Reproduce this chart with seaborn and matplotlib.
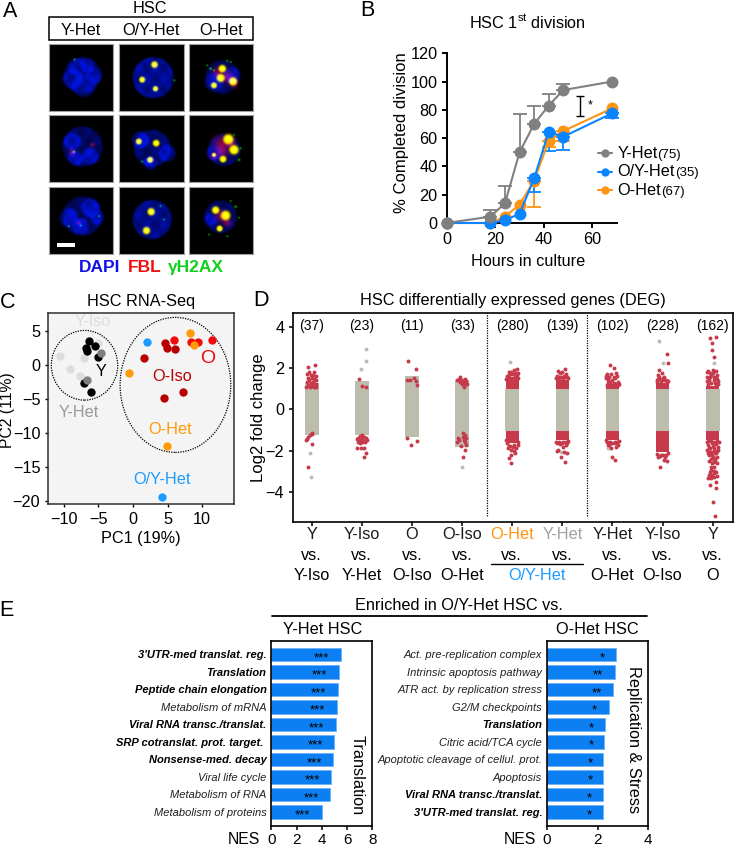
import numpy as np
import pandas as pd
import matplotlib
matplotlib.use("Agg")
import matplotlib.pyplot as plt
from matplotlib.patches import Ellipse, Rectangle
import seaborn as sns

sns.set_theme(style="ticks")
plt.rcParams['font.family'] = ['Liberation Sans', 'DejaVu Sans']
plt.rcParams['mathtext.default'] = 'regular'
plt.rcParams['axes.edgecolor'] = 'black'
plt.rcParams['text.color'] = 'black'
plt.rcParams['xtick.color'] = 'black'
plt.rcParams['ytick.color'] = 'black'

W, H = 734, 849
GREY, BLUE, ORANGE = '#808080', '#0A84FF', '#FF9412'

# ---------- Panel B data ----------
b_hours_y = [0, 18, 24, 30, 36, 42, 48, 68]
b_y_het = [0, 4.5, 14, 50, 70, 83, 94, 100]
b_y_err = [0, 4.5, 12, 27, 13, 8, 4, 0]
b_oy_het = [0, 0, 2, 6.5, 31.5, 64.5, 61, 77.5]
b_oy_err = [0, 0, 0, 0, 9.5, 13.5, 9.5, 3.5]
b_o_het = [0, 0, 4.5, 13, 30, 58, 65, 81]
b_o_err = [0, 0, 0, 0, 19, 4, 7, 0]
b_legend = [('Y-Het', '(75)', GREY), ('O/Y-Het', '(35)', BLUE), ('O-Het', '(67)', ORANGE)]

# ---------- Panel C data ----------
c_black_x = [-6.35, -6.78, -6.59, -5.48, -5.14, -6.01, -7.07]
c_black_y = [3.6, 2.51, 2.17, 2.91, 1.28, -3.94, -2.56]
c_light_x = [-10.53, -9.18, -7.16, -7.64, -5.0]
c_light_y = [1.38, -0.54, 1.03, -1.58, 3.25]
c_grey_x = [-4.62, -6.63]
c_grey_y = [1.77, -2.12]
c_red_x = [5.91, 8.32, 9.38, 11.44]
c_red_y = [3.74, 3.4, 3.5, 3.74]
c_dark_x = [4.66, 4.9, 6.11, 1.54, 4.47, 7.16]
c_dark_y = [3.35, 2.51, 2.46, 1.03, -4.83, -3.89]
c_orange_x = [8.22, 8.8, -0.58, 4.95]
c_orange_y = [4.78, 2.96, -1.08, -11.92]
c_blue_x = [2.02, 4.18]
c_blue_y = [3.4, -19.46]

# ---------- Panel D data ----------
d_counts = ['(37)', '(23)', '(11)', '(33)', '(280)', '(139)', '(102)', '(228)', '(162)']
d_band_low = [-1.24, -1.24, -1.32, -1.8, -1.03, -1.03, -1.03, -1.03, -1.03]
d_band_high = [1.26, 1.37, 1.6, 1.42, 0.98, 0.98, 0.98, 0.98, 0.98]
d_up_block = [0, 0, 0, 0, 1.55, 1.4, 1.15, 1.3, 1.15]
d_down_block = [0, 0, 0, 0, -1.65, -1.5, -1.5, -2.08, -1.5]
d_red = [
    [(.07,2.13),(-.07,2.06),(.05,1.82),(-.05,1.79),(-.10,1.69),(-.02,1.66),(.03,1.66),(.08,1.63),(-.08,1.53),(0,1.5),
     (.05,1.47),(-.05,1.42),(.09,1.42),(-.09,1.31),(-.02,1.26),(.03,1.26),(.08,1.21),(-.07,1.18),(0,1.13),(.05,1.1),
     (-.11,1.1),(-.04,1.07),(.09,1.1),(.02,1.34),(0,-1.19),(-.03,-1.24),(-.07,-1.32),(.01,-1.16),(-.1,-1.44),
     (-.11,-1.48),(0,-1.68),(-.07,-2.77)],
    [(-.05,1.45),(0,1.13),(.08,1.06),(0,-1.24),(-.03,-1.29),(.05,-1.32),(-.07,-1.37),(.01,-1.4),(.08,-1.4),(-.1,-1.44),
     (-.03,-1.48),(.05,-1.52),(.11,-1.48),(-.07,-1.56),(.01,-1.6),(.07,-1.6),(-.1,-1.89),(-.01,-1.89),(.05,-1.85),
     (.08,-2.13),(.05,-2.29),(-.03,-1.65)],
    [(-.07,2.32),(.07,1.97),(-.09,1.42),(-.03,1.44),(.04,1.53),(.07,1.39),(.09,1.18),(-.09,-1.4),(-.01,-1.73),(.09,-1.53)],
    [(-.04,1.58),(-.07,1.47),(-.01,1.42),(.05,1.45),(-.11,1.42),(-.04,1.31),(.03,1.31),(.07,1.37),(-.01,1.21),(.06,1.23),
     (.09,1.21),(.03,1.1),(.01,-1.13),(.06,-1.24),(.02,-1.32),(-.09,-1.4),(.07,-1.37),(-.07,-1.48),(.03,-1.48),(-.1,-1.6),
     (.06,-1.56),(-.02,-1.77),(.07,-1.73),(.05,-1.97),(.01,-2.29)],
    [(.10,1.94),(.03,1.89),(-.02,1.79),(-.07,1.79),(.11,1.74),(.06,1.74),(-.11,1.6),(-.06,1.65),(0,1.7),(.05,1.62),
     (.1,1.65),(-.12,1.45),(.12,1.5),(-.11,-1.65),(-.04,-1.75),(.04,-1.72),(.12,-1.6),(-.12,-1.5),
     (-.02,-2.58),(.06,-2.13),(-.07,-2.34),(-.02,-2.21),
     (.03,-2.0),(-.09,-1.89),(-.03,-1.97),(.08,-1.89),(.01,-1.81),(-.07,-1.77),(.11,-1.73)],
    [(.05,1.95),(-.09,1.85),(0,1.79),(-.05,1.74),(.07,1.69),(-.11,1.63),(.03,1.63),(.1,1.58),(-.03,1.58),(-.09,1.55),
     (-.12,1.5),(-.06,1.52),(.01,1.5),(.06,1.55),(.12,1.5),(-.12,-1.6),(-.06,-1.6),(.02,-1.6),(.07,-1.58),(.12,-1.55),
     (.05,-2.53),(-.03,-2.29),(-.11,-2.0),(.1,-2.13),(.03,-2.05),(-.09,-1.97),(.07,-1.73),(-.05,-1.69),(.02,-1.81),
     (-.1,-1.65),(.1,-1.65),(0,-1.65)],
    [(-.05,2.13),(.03,1.98),(-.1,1.69),(.07,1.74),(-.03,1.69),(.02,1.58),(-.12,1.5),(.1,1.34),(-.05,1.34),(-.09,1.42),
     (.07,1.21),(.02,1.26),(.1,1.18),(-.09,1.26),(-.01,1.18),(.05,1.5),(-.06,1.55),(0,1.42),(-.13,1.63),(.09,1.63),
     (-.11,1.2),(-.06,1.22),(.04,1.25),(.12,1.25),(-.12,-1.5),(-.05,-1.65),(.04,-1.65),(.12,-1.55),(-.09,-1.7),(.08,-1.6),
     (0,-2.29),(.05,-2.45),(-.07,-1.73),(.1,-1.73),(0,-1.65),
     (-.1,-1.6),(.05,-1.56),(-.05,-1.56),(.07,-1.81),(-.03,-1.89)],
    [(-.07,1.9),(-.01,1.74),(-.1,1.66),(.03,1.58),(-.07,1.58),(.07,1.42),(-.03,1.42),(-.11,1.34),(.09,1.31),(0,1.5),
     (-.09,1.47),(-.12,1.4),(-.04,1.38),(.03,1.42),(.11,1.38),(-.11,-2.15),(-.05,-2.25),(.01,-2.2),(.05,-2.3),(.11,-2.1),
     (.08,2.66),(.1,2.23),(-.06,-2.79),(.03,-2.45),(.09,-2.5),(-.09,-2.29),(-.03,-2.21),(.07,-2.21)],
    [(.06,3.52),(-.05,3.44),(-.02,3.19),(-.01,2.87),(.03,2.55),(-.09,1.85),(.06,1.85),(-.04,1.66),(.06,1.58),(-.11,1.58),
     (.01,1.74),(.09,1.66),(-.07,1.42),(.03,1.42),(.11,1.37),(-.12,1.79),(-.1,1.25),(-.03,1.3),(.06,1.25),(.1,1.25),
     (-.05,1.55),(.02,1.55),(-.12,1.35),(.05,1.3),(0,1.9),(-.06,1.75),(.08,1.45),
     (-.1,-1.55),(-.04,-1.55),(.02,-1.58),(.08,-1.55),(.12,-1.6),(-.12,-1.6),(-.08,-1.85),(0,-1.75),(.1,-1.95),(-.06,-2.05),
     (.03,-2.03),(-.02,-2.2),(.07,-2.12),(-.09,-2.1),(.03,-2.35),(-.07,-2.5),(.02,-2.55),(.08,-2.6),(-.03,-2.8),(.02,-3.0),
     (-.05,-3.05),(.03,-3.1),(-.03,-3.3),(.08,-3.2),
     (-.09,-1.73),(-.01,-1.65),(.06,-1.69),(.11,-1.81),
     (-.05,-1.89),(.03,-1.89),(-.11,-1.97),(.08,-2.02),(-.03,-2.08),(.04,-2.13),(-.07,-2.21),(.01,-2.29),(.09,-2.29),
     (-.04,-2.4),(.05,-2.45),(-.01,-2.61),(.03,-2.77),(-.04,-2.94),(.06,-3.02),(-.07,-3.18),(-.01,-3.18),(-.09,-3.31),
     (.03,-3.26),(-.06,-3.66),(.06,-3.5),(.06,-3.79),(0,-4.5),(.05,-5.15)],
]
d_grey_out = [
    [(-.03,-2.13),(-.02,-3.29)],
    [(.08,2.92),(.08,2.34),(-.02,1.94)],
    [],
    [(-.01,-2.77)],
    [(-.05,2.31)],
    [(-.02,-2.05)],
    [(-.09,-1.85)],
    [(-.07,3.31),(.01,2.23)],
    [(.03,2.23)],
]

# ---------- Panel E data ----------
e_left_terms = ["3'UTR-med translat. reg.", "Translation", "Peptide chain elongation", "Metabolism of mRNA",
                "Viral RNA transc./translat.", "SRP cotranslat. prot. target. ", "Nonsense-med. decay",
                "Viral life cycle", "Metabolism of RNA", "Metabolism of proteins"]
e_left_nes = [5.5, 5.36, 5.3, 5.2, 5.1, 5.0, 4.88, 4.75, 4.67, 4.0]
e_left_star_x = [3.98, 3.83, 3.77, 3.67, 3.6, 3.5, 3.38, 3.27, 3.2, 2.48]
e_left_stars = ['***'] * 10
e_left_bold = [1, 1, 1, 0, 1, 1, 1, 0, 0, 0]
e_right_terms = ["Act. pre-replication complex", "Intrinsic apoptosis pathway", "ATR act. by replication stress",
                 "G2/M checkpoints", "Translation", "Citric acid/TCA cycle", "Apoptotic cleavage of cellul. prot.",
                 "Apoptosis", "Viral RNA transc./translat.", "3'UTR-med translat. reg."]
e_right_nes = [2.73, 2.68, 2.63, 2.45, 2.28, 2.26, 2.23, 2.23, 2.22, 2.2]
e_right_star_x = [2.18, 2.03, 1.98, 1.89, 1.76, 1.74, 1.72, 1.72, 1.68, 1.68]
e_right_stars = ['*', '**', '**', '*', '*', '*', '*', '*', '*', '*']
e_right_bold = [0, 0, 0, 0, 1, 0, 0, 0, 1, 1]

# ---------- Panel A micrograph description (nuclei, nucleoli, FBL, gammaH2AX) ----------
a_boxes = [[(146, 340), (356, 551), (566, 760)], [(132, 332), (346, 547), (561, 763)]]
a_cells = {
    (0, 0): dict(n=[(245,225,55),(215,235,30),(280,225,25),(250,255,35),(230,200,25),(260,195,22)], s=[], r=[], g=[(222,178,2)], k=.38),
    (0, 1): dict(n=[(458,232,61)], s=[(462,193,10),(425,238,9),(465,265,8)], r=[], g=[(522,240,2)], k=.7),
    (0, 2): dict(n=[(665,230,50),(640,245,28),(695,225,25)], s=[(665,205,11),(660,233,12),(697,243,12),(640,255,9)],
                 r=[(680,230,15),(650,215,12),(700,250,10)], g=[(630,205,3),(640,210,2),(680,182,2),(690,185,2),(620,195,2)], k=.42),
    (1, 0): dict(n=[(245,440,60),(215,425,25),(270,470,25),(225,475,22)], s=[], r=[(215,457,8),(275,435,6)], g=[(220,456,3)], k=.45),
    (1, 1): dict(n=[(455,445,55),(420,420,25),(500,460,25),(450,490,20)], s=[(415,425,9),(467,430,10),(449,480,9)], r=[], g=[(425,485,2)], k=.5),
    (1, 2): dict(n=[(670,450,48),(640,460,22)], s=[(683,418,15),(700,450,14),(667,478,10),(640,465,6)],
                 r=[(660,430,18),(690,430,12),(665,455,15),(640,470,8)], g=[(715,480,3),(720,445,2),(700,405,2)], k=.45),
    (2, 0): dict(n=[(245,650,58),(205,655,28),(270,625,28),(240,680,25),(290,655,20)], s=[], r=[(235,670,5)], g=[(295,650,2),(205,680,2),(240,678,2)], k=.45),
    (2, 1): dict(n=[(455,660,58)], s=[(452,637,11),(438,693,11)], r=[], g=[(480,620,2),(490,660,2)], k=.65),
    (2, 2): dict(n=[(660,652,48),(630,660,18)], s=[(645,632,11),(675,648,14),(657,687,9)], r=[(660,650,14),(680,670,10)],
                 g=[(705,622,3),(715,655,2),(625,705,2),(680,710,2),(690,605,2)], k=.45),
}

fig = plt.figure(figsize=(W / 100, H / 100), dpi=100, facecolor='white')


def axpx(l, t, r, b, **kw):
    return fig.add_axes([l / W, 1 - b / H, (r - l) / W, (b - t) / H], **kw)


ov = fig.add_axes([0, 0, 1, 1], zorder=20)
ov.set_xlim(0, W)
ov.set_ylim(H, 0)
ov.axis('off')
ov.patch.set_alpha(0)


def T(x, y, s, size=11.7, color='black', ha='center', va='center', **kw):
    return ov.text(x, y, s, fontsize=size, color=color, ha=ha, va=va, **kw)


for (lx, ly, s) in [(10, 11, 'A'), (367, 10, 'B'), (8, 303, 'C'), (261, 301, 'D'), (6, 610, 'E')]:
    T(lx, ly, s, size=15.5)

# ---------- Panel A ----------
T(150, 8, 'HSC')
ov.add_patch(Rectangle((48.7, 17.3), 204.6, 22.7, fill=False, ec='black', lw=1.1))
for x_, s in [(80.7, 'Y-Het'), (150.7, 'O/Y-Het'), (221.3, 'O-Het')]:
    T(x_, 30, s)
for x_, s, c in [(100, 'DAPI', '#1010E8'), (145, 'FBL', '#F01010'), (195.7, 'γH2AX', '#10D020')]:
    T(x_, 267.5, s, size=12.5, color=c, fontweight='bold')


def micrograph(ax, cell, xr, yr):
    X, Y = np.meshgrid(np.arange(xr[0], xr[1]), np.arange(yr[0], yr[1]))
    R = np.zeros(X.shape); G = np.zeros(X.shape); B = np.zeros(X.shape)
    for cx, cy, rad in cell['n']:
        d = np.hypot(X - cx, Y - cy)
        B += cell['k'] * np.clip((rad - d) / 7 + .5, 0, 1)
    B *= .82 + .18 * np.sin(X / 8.0) * np.sin(Y / 10.0)
    G += .08 * B
    for cx, cy, rad in cell['r']:
        d = np.hypot(X - cx, Y - cy)
        R += .45 * np.exp(-d ** 2 / (2 * (.8 * rad) ** 2))
    for cx, cy, rad in cell['s']:
        d = np.hypot(X - cx, Y - cy)
        e = np.exp(-(d / rad) ** 4)
        R += 1.15 * e; G += 1.1 * e; B += .35 * np.exp(-(d / (.55 * rad)) ** 2) - .6 * e
    for cx, cy, rad in cell['g']:
        d = np.hypot(X - cx, Y - cy)
        G += .8 * np.exp(-(d / (.9 * rad + .8)) ** 2)
    img = np.clip(np.dstack([R, G, np.clip(B, 0, .85)]), 0, 1)
    ax.imshow(img, extent=(xr[0], xr[1], yr[1], yr[0]), interpolation='bilinear', aspect='auto')
    ax.set_xticks([]); ax.set_yticks([])
    for sp in ax.spines.values():
        sp.set_color('#a0a0a0'); sp.set_linewidth(.8)


for (i, j), cell in a_cells.items():
    xr, yr = a_boxes[0][j], a_boxes[1][i]
    a = axpx(xr[0] / 3, yr[0] / 3, xr[1] / 3, yr[1] / 3)
    micrograph(a, cell, xr, yr)
ov.add_patch(Rectangle((56.7, 243), 18, 4.3, color='white', lw=0))

# ---------- Panel B ----------
axb = axpx(446.7, 53.3, 616.7, 223)
for vals, errs, col in [(b_y_het, b_y_err, GREY), (b_o_het, b_o_err, ORANGE), (b_oy_het, b_oy_err, BLUE)]:
    lo = np.array(errs) if col != GREY else np.zeros(len(errs))
    hi = np.array(errs) if col == GREY else np.zeros(len(errs))
    idx = [k for k, e in enumerate(errs) if e > 0]
    axb.errorbar(np.array(b_hours_y)[idx], np.array(vals)[idx], yerr=[lo[idx], hi[idx]], fmt='none',
                 ecolor=col, elinewidth=1.3, capsize=4.8, capthick=1.3, clip_on=False, zorder=1)
df_b = pd.DataFrame({
    'hours': b_hours_y * 3,
    'pct': b_o_het + b_oy_het + b_y_het,
    'group': ['O-Het'] * 8 + ['O/Y-Het'] * 8 + ['Y-Het'] * 8,
})
sns.lineplot(data=df_b, x='hours', y='pct', hue='group', hue_order=['O-Het', 'O/Y-Het', 'Y-Het'],
             palette={'Y-Het': GREY, 'O/Y-Het': BLUE, 'O-Het': ORANGE}, marker='o', markersize=8.6,
             markeredgewidth=0, linewidth=1.5, errorbar=None, legend=False, ax=axb, zorder=3)
for ln in axb.lines:
    ln.set_clip_on(False)
axb.set_xlim(0, 70); axb.set_ylim(0, 120)
axb.set_xticks([0, 20, 40, 60]); axb.set_yticks(range(0, 121, 20))
axb.set_xlabel(''); axb.set_ylabel('')
axb.patch.set_alpha(0)
sns.despine(ax=axb)
axb.spines['left'].set_linewidth(1.4); axb.spines['bottom'].set_linewidth(1.4)
axb.tick_params(labelsize=11.7, width=1.4, length=3.5, pad=3)
axb.errorbar([55], [83], yerr=[7], fmt='none', ecolor='black', elinewidth=1, capsize=3, capthick=1)
T(590, 105, '*', size=9)
T(527.7, 22, 'HSC 1$^{st}$ division')
T(528, 262, 'Hours in culture')
T(401.5, 133, '% Completed division', rotation=90, size=12)
for k, (name, n, col) in enumerate(b_legend):
    yy = [153, 171.5, 190][k]
    ov.plot([598, 612], [yy, yy], color=col, lw=1.5)
    ov.plot([605], [yy], 'o', color=col, ms=6, mew=0)
    tx = T(617.3, yy, name, ha='left')
    ov.annotate(n, xy=(1, 0), xycoords=tx, xytext=(0, 0), textcoords='offset points',
                fontsize=9.5, ha='left', va='bottom')

# ---------- Panel C ----------
axc = axpx(48, 313.3, 234, 504)
axc.set_facecolor('#F4F4F4')
for xs, ys, col in [(c_light_x, c_light_y, '#DDDDDD'), (c_black_x, c_black_y, 'black'), (c_grey_x, c_grey_y, '#7F7F7F'),
                    (c_red_x, c_red_y, '#F00A0A'), (c_dark_x, c_dark_y, '#B80000'),
                    (c_blue_x, c_blue_y, '#1E9BFF'), (c_orange_x, c_orange_y, '#FF9A0A')]:
    sns.scatterplot(x=xs, y=ys, color=col, s=36, linewidth=0, ax=axc, zorder=3)
axc.add_patch(Ellipse((-7.02, 0), 9.6, 10.3, fill=False, ec='black', ls=(0, (1, 1)), lw=.9, zorder=2))
axc.add_patch(Ellipse((6.13, -2.9), 16, 19.95, fill=False, ec='black', ls=(0, (1, 1)), lw=.9, zorder=2))
axc.set_xlim(-12.3, 14.6); axc.set_ylim(-20.5, 7.68)
axc.set_xticks([-10, -5, 0, 5, 10]); axc.set_yticks([5, 0, -5, -10, -15, -20])
axc.tick_params(labelsize=11.7, width=1, length=2.5, pad=3)
for sp in axc.spines.values():
    sp.set_linewidth(1.1); sp.set_color('#303030')
T(141, 301.7, 'HSC RNA-Seq')
T(141, 538, 'PC1 (19%)')
T(8, 410, 'PC2 (11%)', rotation=90, size=11.3)
T(92.7, 321.7, 'Y-Iso', color='#DDDDDD')
T(101, 371.7, 'Y')
T(79, 412.7, 'Y-Het', color='#999999')
T(171.7, 376.7, 'O-Iso', color='#B80000')
T(207.7, 358.3, 'O', size=14, color='#F00A0A')
T(169.7, 429.3, 'O-Het', color='#FF9A0A')
T(162, 479, 'O/Y-Het', color='#1E9BFF')

# ---------- Panel D ----------
axd = axpx(292.7, 313.3, 733.3, 522)
BAND, RED = '#BDBDAE', '#C63A4B'
cols = np.arange(9)
axd.bar(cols, np.array(d_band_high) - np.array(d_band_low), bottom=d_band_low, width=.27, color=BAND, lw=0, zorder=1)
up = np.array(d_up_block)
dn = np.array(d_down_block)
axd.bar(cols[up > 0], up[up > 0] - .98, bottom=.98, width=.26, color=RED, lw=0, zorder=2)
axd.bar(cols[dn < 0], dn[dn < 0] + 1.03, bottom=-1.03, width=.26, color=RED, lw=0, zorder=2)
for k in cols:
    g = d_grey_out[k]
    if g:
        sns.scatterplot(x=[k + p[0] for p in g], y=[p[1] for p in g], color=BAND, s=8, linewidth=0, ax=axd, zorder=3)
    r = d_red[k]
    sns.scatterplot(x=[k + p[0] for p in r], y=[p[1] for p in r], color=RED, s=8, linewidth=0, ax=axd, zorder=4)
    axd.text(k, 4.05, d_counts[k], fontsize=10, ha='center', va='center')
for xv in [3.5, 5.5]:
    axd.plot([xv, xv], [-5.15, 4.65], color='black', lw=.9, ls=(0, (1, 1)))
axd.set_xlim(-.38, 8.41); axd.set_ylim(-5.45, 4.65)
axd.set_xticks(cols); axd.set_xticklabels([''] * 9)
axd.set_yticks([-4, -2, 0, 2, 4])
axd.tick_params(labelsize=11.7, width=1.1, length=3, pad=3)
for sp in axd.spines.values():
    sp.set_linewidth(1.2); sp.set_color('black')
T(513, 300.7, 'HSC differentially expressed genes (DEG)')
T(258.3, 418, 'Log2 fold change', rotation=90, size=12)
d_xc = [311.7, 361.7, 412, 462, 511.7, 562.3, 612.3, 662.3, 712.7]
d_row1 = [('Y', 'k'), ('Y-Iso', 'k'), ('O', 'k'), ('O-Iso', 'k'), ('O-Het', ORANGE), ('Y-Het', '#A0A0A0'),
          ('Y-Het', 'k'), ('Y-Iso', 'k'), ('Y', 'k')]
d_row3 = ['Y-Iso', 'Y-Het', 'O-Iso', 'O-Het', None, None, 'O-Het', 'O-Iso', 'O']
for x_, (s1, c1), s3 in zip(d_xc, d_row1, d_row3):
    T(x_, 534.3, s1, color=c1)
    T(x_, 556, 'vs.')
    if s3:
        T(x_, 575, s3)
T(537.3, 575, 'O/Y-Het', color='#1E9BFF')
ov.plot([490.7, 583.3], [564.3, 564.3], color='black', lw=1)

# ---------- Panel E ----------
BARC = '#0C7FF2'


def enrich(ax, terms, nes, star_x, stars, bold, xmax, ticks):
    sns.barplot(x=nes, y=terms, orient='h', color=BARC, saturation=1, width=.77,
                edgecolor='#6FB2F8', linewidth=.6, ax=ax)
    ax.set_xlim(0, xmax); ax.set_ylim(9.8, -.78)
    ax.set_xticks(ticks)
    ax.tick_params(axis='x', labelsize=11, width=1.1, length=3.2, pad=1.5)
    ax.tick_params(axis='y', length=0, pad=3.5)
    for lab, b in zip(ax.get_yticklabels(), bold):
        lab.set_fontsize(8)
        lab.set_fontstyle('italic')
        lab.set_fontweight('bold' if b else 'normal')
        lab.set_color('black' if b else '#202020')
    for i, (x_, s) in enumerate(zip(star_x, stars)):
        ax.text(x_, i + .22, s, fontsize=9.5, ha='center', va='center', color='black')
    ax.set_xlabel(''); ax.set_ylabel('')
    for sp in ax.spines.values():
        sp.set_linewidth(1.2); sp.set_color('black')


axe1 = axpx(271.3, 640.7, 372.3, 826)
enrich(axe1, e_left_terms, e_left_nes, e_left_star_x, e_left_stars, e_left_bold, 8, [0, 2, 4, 6, 8])
axe2 = axpx(547, 640.7, 648, 826)
enrich(axe2, e_right_terms, e_right_nes, e_right_star_x, e_right_stars, e_right_bold, 4, [0, 2, 4])
T(459, 605, 'Enriched in O/Y-Het HSC vs.')
ov.plot([271.7, 646.7], [616, 616], color='black', lw=1.3)
T(322.3, 630, 'Y-Het HSC')
T(597.3, 630, 'O-Het HSC')
T(357.3, 775, 'Translation', rotation=270)
T(634, 740, 'Replication & Stress', rotation=270)
T(260, 840, 'NES', ha='right', size=11.3)
T(535.7, 840, 'NES', ha='right', size=11.3)

fig.savefig('out.png', dpi=100)
